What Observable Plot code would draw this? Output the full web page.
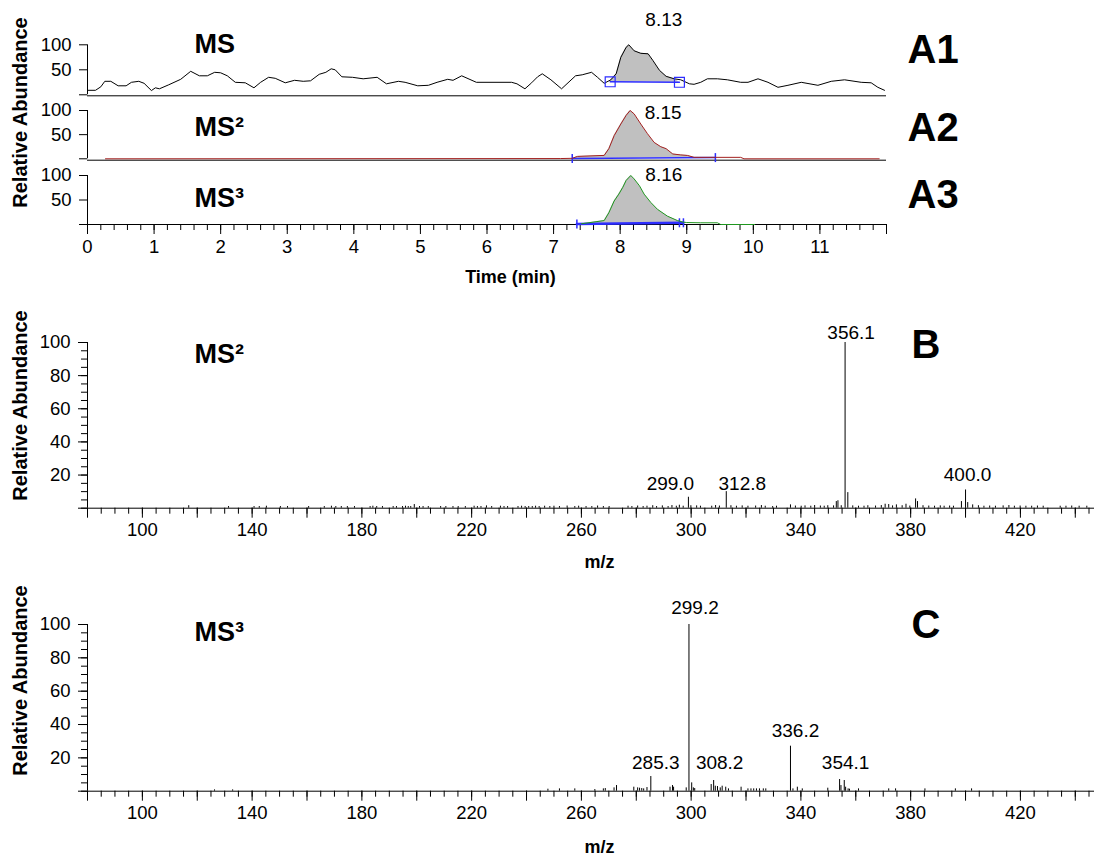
<!DOCTYPE html>
<html><head><meta charset="utf-8">
<script src="https://cdn.jsdelivr.net/npm/d3@7"></script>
<script src="https://cdn.jsdelivr.net/npm/@observablehq/plot@0.6"></script>
<style>
body{margin:0;background:#fff;}
#wrap{position:relative;width:1096px;height:860px;overflow:hidden;background:#fff;}
</style></head><body><div id="wrap"></div>
<script>
// ---------- DATA ----------
// A1: MS total chromatogram (time in min, relative abundance)
const timeA1 = [0,0.12,0.2,0.26,0.35,0.46,0.58,0.66,0.77,0.85,0.96,1.02,1.08,1.22,1.4,1.55,1.68,1.8,1.91,2.0,2.1,2.22,2.37,2.5,2.6,2.72,2.82,2.97,3.11,3.24,3.35,3.48,3.58,3.66,3.72,3.82,3.98,4.14,4.35,4.49,4.67,4.77,4.96,5.12,5.25,5.41,5.49,5.62,5.84,6.37,6.45,6.57,6.67,6.76,6.83,6.96,7.12,7.33,7.43,7.57,7.66,7.76,7.86,7.94,8.01,8.09,8.13,8.21,8.31,8.42,8.49,8.59,8.69,8.81,8.91,9.04,9.11,9.21,9.31,9.46,9.61,9.81,9.92,10.07,10.22,10.37,10.52,10.72,10.97,11.17,11.37,11.62,11.77,11.87,11.97];
const absA1  = [9,9,16,27,27,18,18,25,27,23,8.5,14,12,20,31,47,38,38,45,44,38,25,24,14,25,35,33,24,29,27,28,41,45,52,50,36,35,32,35,22,27,25,18,19,25,31,29,38,25,25,22,12,24,36,42,30,12,38,40,45,35,23,30,42,75,95,100,88,83,82,69,49,37,32,30,22,21,25,32,32,30,25,25,32,25,15,19,25,19,27,30,25,24,15,9];
// A2: MS2 chromatogram
const timeA2 = [0.27,7.1,7.28,7.36,7.76,7.83,7.91,8.01,8.09,8.15,8.21,8.31,8.41,8.51,8.61,8.69,8.79,8.91,9.01,9.11,9.43,9.81,9.86,11.89];
const absA2  = [0,0.5,1,5,7,21,48,72,90,100,93,72,52,34,25,21,10,8,7,3,3,3,0,0];
// A3: MS3 chromatogram
const timeA3 = [7.42,7.76,7.83,7.91,7.98,8.04,8.09,8.16,8.21,8.29,8.36,8.46,8.56,8.71,8.86,8.94,9.0,9.21,9.46,9.51,10.02];
const absA3  = [1.5,8,24,48,62,76,90,100,93,79,62,45,31,17,8,5,4,3.5,3.5,0,0];
// peak labels and integration limits
const peakA = ["8.13","8.15","8.16"];
const peakTime = [8.13,8.15,8.16];
const limA1 = {t: [7.85, 8.89], v: [26, 25]};
const limA2 = {t: [7.28, 9.43], v: [0.5, 2.5]};
const limA3 = {t: [7.35, 8.95], v: [1, 3.5]};
const limA3ticks = [7.35, 8.89, 8.95];

// B: MS2 spectrum (m/z, relative abundance)
const mzB = [116.9,131.4,140.7,142.6,145.2,150.3,152.9,160.6,166.3,168.9,170.5,172.5,174.7,177.3,183.0,184.0,185.4,187.5,191.4,192.6,194.8,195.9,196.9,197.8,199.1,201,202.3,204.2,208.7,210.6,213.2,215.1,217.7,220.9,222.1,223.4,225.4,227.3,230.5,231.8,233.1,236.9,238.2,239.5,240.8,242.1,243.3,244.6,246.6,248.5,250,252,254.8,257.6,259,261.7,263.8,265.9,268,270.1,277,278.4,280.5,282.5,283.9,286,287.4,289.5,291.6,293,294.6,295.7,297.1,299.0,299.9,302,303.4,307.5,308.9,310.3,312.8,314.5,316.5,318.6,320.7,323.5,325.6,327,329.7,331.1,336.2,338,340.1,341.5,343.6,345,347.1,348.5,349.8,351.9,352.9,353.5,354.7,356.1,357.1,358.9,361,363,364.4,367.2,369.3,370.7,372,373.4,374.8,376.9,378.3,379.7,381.8,382.5,384.5,386.6,388.7,390.8,392.2,394.2,395.6,398.5,400.0,400.8,402.6,404.7,406.7,408.8,410.9,413.7,415.8,417.8,419.9,422,424.1,426.2,428.3,434.5,436.6,438.7,441.4,444.2];
const abB = [1.5,1,1,1,1.2,1,1,1,1,1.2,1,1,1,1,1,1.2,1,1,1,1,1,1.2,1,1,2.2,1,1,1,1,1,1,1,1,1.2,1,1,1.4,1,1.2,1,1,1,1.2,1,1,1,1.2,1,1.2,1,1.2,1,1.3,1,1.2,1,1,1.3,1,1,1.2,1,1.3,1,1.2,1.5,1,1.4,1,1.6,1.2,1.8,1.2,6.6,1.5,1.4,1.2,1.2,1.6,1.3,10,1.5,1.2,1.4,1.2,1.3,1.6,1.2,1,1.2,2,1.3,1.2,1.4,1.2,1.6,1.3,1.2,1.5,1.4,4,4.5,1.5,100,9.4,1.4,1.2,1.2,1.5,1.3,1.6,2.4,2.2,1.4,2,1.5,2.4,1.3,5.6,4,1.5,1.3,1.2,1.4,1.2,1.3,1.2,4,11,3.4,2,1.5,1.2,1.3,1.2,1.4,1.6,1.2,1.3,1.2,1.2,1.3,1.2,1.2,1.2,1.3,1.2,1.2];
const labelsB = ["299.0","312.8","356.1","400.0"];

// C: MS3 spectrum
const mzC = [126.3,132.9,247.8,252,257.6,264.9,268,268.7,271.9,272.8,279.1,280.5,281.2,282,282.7,283.9,285.3,292.3,293.2,293.6,298.2,299.2,300.2,300.8,301.3,307.3,308.2,308.8,309.6,310.6,311.3,312.6,313.6,318.2,320.7,321.8,322.8,323.8,324.9,326.3,327.2,336.2,337.1,338.7,340.5,349.8,354.1,354.6,355.8,356.3,357.2,357.7,361,372,374.5,385.2,396.3,402.2];
const abC = [0.8,0.8,1.2,1.4,1.4,1,1.4,1.6,2,3.4,2.4,2,1.8,1.6,1.4,2.2,8.8,2.4,3.4,2.4,2,100,5,2,1.6,4,6.4,3,2.8,2,3,2.4,1.4,2.4,1.4,1.4,1.4,1.4,1.4,1.4,1.4,27,1.4,2.4,1.4,1.8,7,3.4,6.4,2.4,1.4,1.2,1.4,1.4,1.4,1.4,1.4,1.4];
const labelsC = ["285.3","299.2","308.2","336.2","354.1"];

// ---------- STYLE ----------
const FONT = '"Liberation Sans", Arial, Helvetica, sans-serif';
const BLUE = "#2d2dff", GRAY = "#c0c0c0", RED = "#a3201f", GREEN = "#1f961f";
const base = {fontFamily: FONT, fontSize: "18.5px", background: "transparent", overflow: "visible", color: "#000"};
const nudgeB = {"299.0": [-18, -7], "312.8": [16, -2], "356.1": [6, -4], "400.0": [2, -9]};
const nudgeC = {"285.3": [5, -8], "299.2": [6, -11], "308.2": [6, -12], "336.2": [5, -9], "354.1": [6, -11]};

const wrap = document.getElementById("wrap");
function add(svg, top) {
  svg.style.position = "absolute"; svg.style.left = "0px"; svg.style.top = top + "px";
  wrap.appendChild(svg);
}
const zip = (t, v) => t.map((d, i) => ({t: d, v: v[i]}));
const A1 = zip(timeA1, absA1), A2 = zip(timeA2, absA2), A3 = zip(timeA3, absA3);
function shade(curve, lim) {
  const [t0, t1] = lim.t, [v0, v1] = lim.v;
  const b = t => v0 + (v1 - v0) * (t - t0) / (t1 - t0);
  const pts = [{t: t0, base: v0, v: v0}];
  for (const p of curve) if (p.t > t0 && p.t < t1) pts.push({t: p.t, base: b(p.t), v: Math.max(p.v, b(p.t))});
  pts.push({t: t1, base: v1, v: v1});
  return pts;
}
const limPts = lim => lim.t.map((t, i) => ({t, v: lim.v[i]}));
const vtick = {draw(ctx, size) { const r = Math.sqrt(size / Math.PI); ctx.moveTo(0, -r); ctx.lineTo(0, r); }};
const txt = d => d;
const bold = (s, opts) => Plot.text([s], {text: txt, fontWeight: "bold", textAnchor: "start", lineAnchor: "bottom", ...opts});

const xA = {domain: [0, 12]};
const yA = d => d === 0 ? "" : String(d);
function chromAxisY() {
  return [
    Plot.ruleX([0], {y1: 0, y2: 100, stroke: "#000"}),
    Plot.axisY({ticks: [0, 50, 100], tickSize: 8, tickPadding: 8, tickFormat: yA, label: null})
  ];
}

// ---------- A1 ----------
add(Plot.plot({
  width: 1096, height: 100, marginTop: 44.3, marginBottom: 5.7, marginLeft: 87, marginRight: 210,
  x: {...xA, axis: null}, y: {domain: [0, 100]}, style: base,
  marks: [
    Plot.areaY(shade(A1, limA1), {x: "t", y1: "base", y2: "v", fill: GRAY}),
    Plot.ruleY([0], {stroke: "#000", dy: 1}),
    ...chromAxisY(),
    Plot.line(A1, {x: "t", y: "v", stroke: "#000", strokeWidth: 1}),
    Plot.line(limPts(limA1), {x: "t", y: "v", stroke: BLUE, strokeWidth: 1.5}),
    Plot.dot(limPts(limA1), {x: "t", y: "v", symbol: "square", r: 5.6, stroke: BLUE, fill: "none", strokeWidth: 1.2}),
    Plot.text([0], {x: () => peakTime[0], y: () => 100, text: () => peakA[0], dx: 35, dy: -19, lineAnchor: "bottom", fontSize: 19}),
    bold("MS", {frameAnchor: "top-left", dx: 107, dy: 7.7, fontSize: 27}),
    bold("A1", {frameAnchor: "top-left", dx: 820, dy: 17.7, fontSize: 40})
  ]
}), 0);

// ---------- A2 ----------
add(Plot.plot({
  width: 1096, height: 65, marginTop: 10, marginBottom: 6.7, marginLeft: 87, marginRight: 210,
  x: {...xA, axis: null}, y: {domain: [0, 100]}, style: base,
  marks: [
    Plot.areaY(shade(A2, limA2), {x: "t", y1: "base", y2: "v", fill: GRAY}),
    Plot.ruleY([0], {stroke: "#000", dy: 1.4}),
    ...chromAxisY(),
    Plot.line(limPts(limA2), {x: "t", y: "v", stroke: BLUE, strokeWidth: 1.5}),
    Plot.dot(limPts(limA2), {x: "t", y: "v", symbol: vtick, r: 4.5, stroke: BLUE, fill: "none", strokeWidth: 1.5}),
    Plot.line(A2, {x: "t", y: "v", stroke: RED, strokeWidth: 1}),
    Plot.text([0], {x: () => peakTime[1], y: () => 100, text: () => peakA[1], dx: 33, dy: 8, lineAnchor: "bottom", fontSize: 19}),
    bold("MS²", {frameAnchor: "top-left", dx: 107, dy: 25, fontSize: 27}),
    bold("A2", {frameAnchor: "top-left", dx: 820, dy: 30, fontSize: 40}),
    Plot.text(["Relative Abundance"], {text: txt, frameAnchor: "top-left", rotate: -90, textAnchor: "middle", lineAnchor: "bottom", dx: -60.6, dy: 2, fontWeight: "bold", fontSize: 20})
  ]
}), 100);

// ---------- A3 ----------
add(Plot.plot({
  width: 1096, height: 125, marginTop: 10, marginBottom: 66, marginLeft: 87, marginRight: 210,
  x: xA, y: {domain: [0, 100]}, style: base,
  marks: [
    Plot.areaY(shade(A3, limA3), {x: "t", y1: "base", y2: "v", fill: GRAY}),
    Plot.ruleY([0], {stroke: "#000"}),
    ...chromAxisY(),
    Plot.axisX({ticks: d3.range(0, 13), tickSize: 10, tickPadding: 5, tickFormat: d => d === 12 ? "" : String(d), label: null}),
    Plot.axisX({ticks: d3.range(0, 61).map(i => i / 5), tickSize: 6, tickFormat: () => "", label: null}),
    Plot.line(limPts(limA3), {x: "t", y: "v", stroke: BLUE, strokeWidth: 2.5}),
    Plot.dot(limA3ticks, {x: d => d, y: (d, i) => i === 0 ? limA3.v[0] : limA3.v[1], symbol: vtick, r: 4.5, stroke: BLUE, fill: "none", strokeWidth: 1.5}),
    Plot.line(A3, {x: "t", y: "v", stroke: GREEN, strokeWidth: 1}),
    Plot.text([0], {x: () => peakTime[2], y: () => 100, text: () => peakA[2], dx: 33, dy: 5, lineAnchor: "bottom", fontSize: 19}),
    bold("MS³", {frameAnchor: "top-left", dx: 107, dy: 31, fontSize: 27}),
    bold("A3", {frameAnchor: "top-left", dx: 820, dy: 32, fontSize: 40}),
    Plot.text(["Time (min)"], {text: txt, frameAnchor: "bottom-left", dx: 423, dy: 58, textAnchor: "middle", lineAnchor: "bottom", fontWeight: "bold", fontSize: 18})
  ]
}), 165);

// ---------- spectra ----------
function spectrum(mz, ab, labels, nudge, title, letter, opts) {
  const data = mz.map((m, i) => ({mz: m, ab: ab[i]}));
  const lab = labels.map(l => data.find(d => d.mz === +l)).map((d, i) => ({...d, label: labels[i]}));
  return Plot.plot({
    width: 1096, height: opts.height, marginTop: opts.mt, marginBottom: opts.mb, marginLeft: 87, marginRight: 2,
    x: {domain: [80, 447]}, y: {domain: [0, 100]}, style: base,
    marks: [
      Plot.ruleX([80], {y1: 0, y2: 100, stroke: "#000"}),
      Plot.ruleY([0], {stroke: "#000"}),
      Plot.axisY({ticks: d3.range(0, 101, 20), tickSize: 9, tickPadding: 8, tickFormat: yA, label: null}),
      Plot.axisY({ticks: d3.range(0, 101, 5), tickSize: 6, tickFormat: () => "", label: null}),
      Plot.axisX({ticks: d3.range(80, 448, 20), tickSize: 10, tickPadding: 5, tickFormat: d => (d - 100) % 40 === 0 ? String(d) : "", label: null}),
      Plot.axisX({ticks: d3.range(80, 448, 5), tickSize: 6, tickFormat: () => "", label: null}),
      Plot.ruleX(data, {x: "mz", y1: 0, y2: "ab", stroke: "#000", strokeWidth: 1}),
      ...lab.map(d => Plot.text([d], {x: "mz", y: "ab", text: "label", dx: nudge[d.label][0], dy: nudge[d.label][1], lineAnchor: "bottom", fontSize: 19})),
      bold(title, {frameAnchor: "top-left", dx: 107, dy: opts.titleDy, fontSize: 27}),
      bold(letter, {frameAnchor: "top-left", dx: 824, dy: opts.letterDy, fontSize: 40}),
      Plot.text(["m/z"], {text: txt, frameAnchor: "bottom-left", dx: 512, dy: opts.mzDy, textAnchor: "middle", lineAnchor: "bottom", fontWeight: "bold", fontSize: 18}),
      Plot.text(["Relative Abundance"], {text: txt, frameAnchor: "top-left", rotate: -90, textAnchor: "middle", lineAnchor: "bottom", dx: -60.6, dy: opts.ylabDy, fontWeight: "bold", fontSize: 20})
    ]
  });
}
add(spectrum(mzB, abB, labelsB, nudgeB, "MS²", "B", {height: 290, mt: 52, mb: 72.3, titleDy: 20, letterDy: 15, mzDy: 60, ylabDy: 63}), 290);
add(spectrum(mzC, abC, labelsC, nudgeC, "MS³", "C", {height: 280, mt: 44, mb: 69.3, titleDy: 16, letterDy: 13, mzDy: 62, ylabDy: 56}), 580);
</script></body></html>
